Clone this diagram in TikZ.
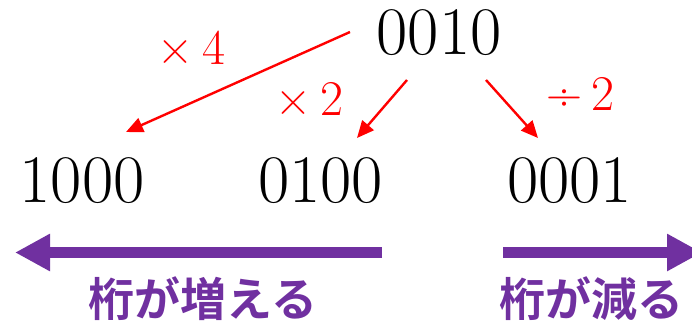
\documentclass[tikz,border=0pt]{standalone}
\usepackage{fontspec}
\newfontfamily\jp{Noto Sans CJK JP}[BoldFont={Noto Sans CJK JP Bold}]
\usetikzlibrary{arrows.meta}
\definecolor{myred}{HTML}{FF0000}
\definecolor{mypurple}{HTML}{7030A0}
\tikzset{
  bits/.style={inner sep=0pt, font=\fontsize{68}{68}\selectfont},
  oplabel/.style={inner sep=0pt, text=myred, font=\fontsize{50}{50}\selectfont},
  redarrow/.style={draw=myred, line width=2.4pt, -{Triangle[length=17pt,width=15pt]}},
  bigarrow/.style={draw=mypurple, line width=11pt, -{Triangle[length=35pt,width=35pt]}},
  jplabel/.style={inner sep=0pt, text=mypurple, font=\jp\bfseries\fontsize{46}{46}\selectfont}
}
\begin{document}
\begin{tikzpicture}[x=1pt,y=-1pt]
\useasboundingbox (0,0) rectangle (692,321);
\clip (0,0) rectangle (692,321);
% numbers
\node[bits] (n0010) at (439,32.5) {0010};
\node[bits] (n1000) at (82,180.5) {1000};
\node[bits] (n0100) at (320.5,180.5) {0100};
\node[bits] (n0001) at (569.5,180.5) {0001};
% operation labels
\node[oplabel] (lx4) at (191,47.5) {×\hspace{9pt}4};
\node[oplabel] (lx2) at (309,98.5) {×\hspace{9pt}2};
\node[oplabel] (ld2) at (580,94) {÷\hspace{9pt}2};
% red arrows
\coordinate (s1) at (350,32);
\coordinate (t1) at (126,132);
\coordinate (s2) at (407,80);
\coordinate (t2) at (357,138);
\coordinate (s3) at (486,80);
\coordinate (t3) at (538,138);
\draw[redarrow] (s1) -- (t1);
\draw[redarrow] (s2) -- (t2);
\draw[redarrow] (s3) -- (t3);
% purple arrows
\coordinate (p1s) at (382,252.5);
\coordinate (p1e) at (15,252.5);
\coordinate (p2s) at (503,252.5);
\coordinate (p2e) at (702,252.5);
\draw[bigarrow] (p1s) -- (p1e);
\draw[bigarrow] (p2s) -- (p2e);
% japanese labels
\node[jplabel] (jp1) at (203,299) {桁が増える};
\node[jplabel] (jp2) at (591,299) {桁が減る};
\end{tikzpicture}
\end{document}
